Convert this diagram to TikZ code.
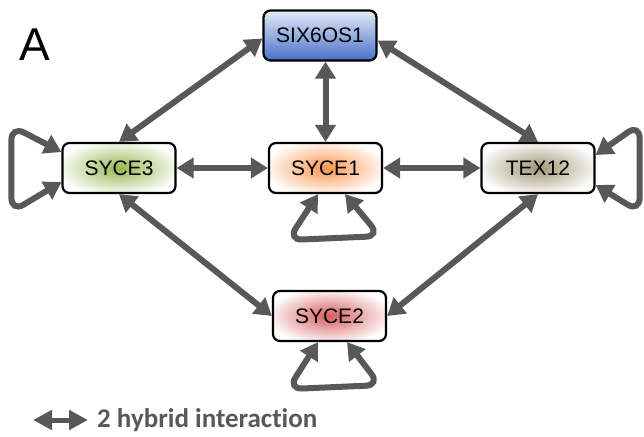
\documentclass[tikz,border=0pt]{standalone}
\usepackage{fontspec}
\setmainfont{Liberation Sans}
\newfontfamily\legendfont[Ligatures={NoCommon,NoRare,NoContextual}]{Carlito}
\usetikzlibrary{arrows.meta,calc,positioning}
\definecolor{linkgray}{RGB}{88,88,88}
\definecolor{sixtop}{RGB}{228,234,248}
\definecolor{sixbot}{RGB}{72,112,200}
\definecolor{syceg}{RGB}{150,182,82}
\definecolor{syceo}{RGB}{250,150,80}
\definecolor{texk}{RGB}{162,150,118}
\definecolor{sycer}{RGB}{214,92,92}
\makeatletter
\pgfdeclareradialshading[tikz@radial@inner,tikz@radial@outer]{softglow}{\pgfpoint{0bp}{0bp}}%
  {color(0bp)=(tikz@radial@inner); color(28bp)=(tikz@radial@outer); color(50bp)=(tikz@radial@outer)}
\makeatother

\begin{document}
\begin{tikzpicture}[
        x=1pt, y=-1pt,
        every node/.style={font=\fontsize{21}{25}\selectfont},
        protein/.style={rectangle, rounded corners=7pt, draw=black, line width=2.2pt,
                        minimum width=113pt, minimum height=50pt, inner sep=0pt},
        glow/.style={inner color=#1, outer color=white, shading=softglow},
        link/.style={{Triangle[length=17pt,width=20pt]}-{Triangle[length=17pt,width=20pt]},
                     line width=6pt, draw=linkgray},
        selfloop/.style={link, rounded corners=14pt},
        keyarrow/.style={{Triangle[length=19pt,width=19pt]}-{Triangle[length=19pt,width=19pt]},
                         line width=5pt, draw=linkgray}
    ]
    \useasboundingbox (0,0) rectangle (644,436);

    \node[font=\fontsize{46}{50}\selectfont, anchor=base west, inner sep=0pt] (panel) at (19,60) {A};

    % proteins
    \node[protein, top color=sixtop, bottom color=sixbot] (six) at (320,35.5) {SIX6OS1};
    \node[protein, glow=syceg] (syce3) at (119,168) {SYCE3};
    \node[protein, glow=syceo] (syce1) at (325.5,168) {SYCE1};
    \node[protein, glow=texk] (tex12) at (538,168) {TEX12};
    \node[protein, glow=sycer] (syce2) at (329.5,316) {SYCE2};

    % interactions
    \draw[link] ([yshift=-3pt]six.west) -- (syce3.north);
    \draw[link] ([yshift=-5pt]six.east) -- (tex12.north);
    \draw[link] (six.south -| syce1.north) -- (syce1.north);
    \draw[link] (syce3) -- (syce1);
    \draw[link] (syce1) -- (tex12);
    \draw[link] (syce3.south) -- (syce2.west);
    \draw[link] (tex12.south) -- (syce2.east);

    % self interactions
    \draw[selfloop] ($(syce3.west)+(0,14)$) -- ($(syce3.west)+(-50,44)$)
        -- ($(syce3.west)+(-50,-42)$) -- ($(syce3.west)+(0,-16)$);
    \draw[selfloop] ($(tex12.east)+(0,-13)$) -- ($(tex12.east)+(44,-44)$)
        -- ($(tex12.east)+(44,44)$) -- ($(tex12.east)+(0,17)$);
    \draw[selfloop] ($(syce1.south)+(-7.5,0)$) -- ($(syce1.south)+(-37.5,46)$)
        -- ($(syce1.south)+(54.5,42)$) -- ($(syce1.south)+(19.5,0)$);
    \draw[selfloop] ($(syce2.south)+(-11.5,0)$) -- ($(syce2.south)+(-41.5,47)$)
        -- ($(syce2.south)+(50.5,43)$) -- ($(syce2.south)+(17.5,0)$);

    % legend
    \coordinate (keyl) at (33,420);
    \coordinate (keyr) at (88,420);
    \draw[keyarrow] (keyl) -- (keyr);
    \node[anchor=base west, inner sep=0pt, text=linkgray,
          font=\legendfont\bfseries\fontsize{27}{32}\selectfont] (keytext) at (97,427) {2 hybrid interaction};

\end{tikzpicture}
\end{document}
